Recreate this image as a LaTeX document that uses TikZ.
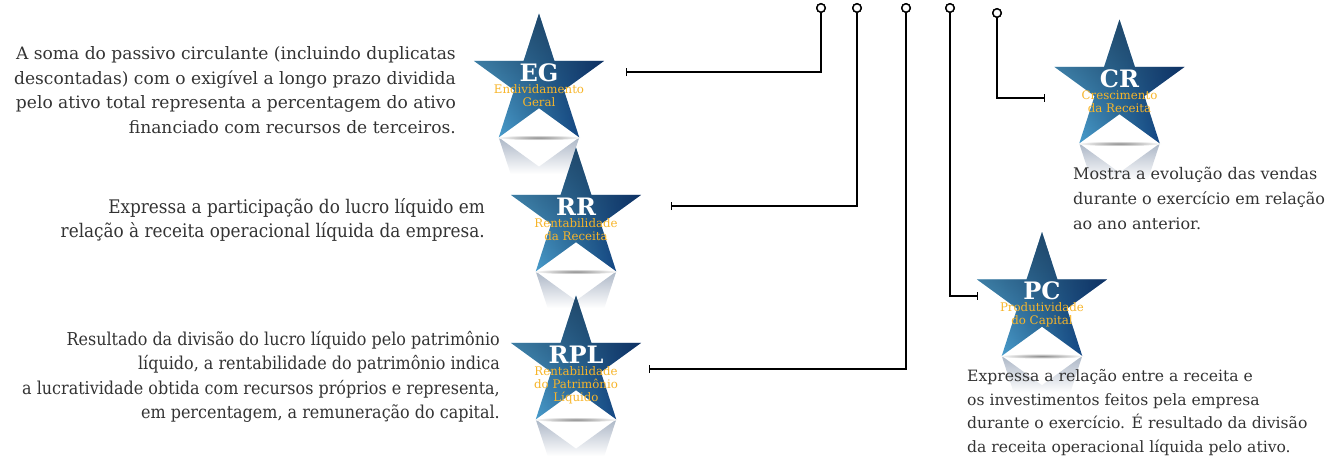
\documentclass[tikz,border=0pt]{standalone}
\usepackage{fontspec}
\setmainfont{DejaVu Serif}
\newfontfamily\condfont[FakeStretch=0.9]{DejaVu Serif}
\usetikzlibrary{arrows.meta,fadings}
\definecolor{starL}{HTML}{5AB6E4}
\definecolor{starM}{HTML}{2F74A6}
\definecolor{starR}{HTML}{032B6F}
\definecolor{starTop}{HTML}{1B3A58}
\definecolor{gold}{HTML}{F7B52A}
\definecolor{txt}{HTML}{333333}
\definecolor{refl}{HTML}{8E9DB2}
\tikzfading[name=topfade, top color=transparent!0, bottom color=transparent!100]
\tikzset{
  starbody/.pic={
    \shade[left color=starL, right color=starR, middle color=starM]
      (0,-68.5) -- (15.38,-21.17) -- (65.15,-21.17) -- (24.89,8.09) -- (40.26,55.42)
      -- (0,26.17) -- (-40.26,55.42) -- (-24.89,8.09) -- (-65.15,-21.17) -- (-15.38,-21.17) -- cycle;
    \fill[starTop, path fading=topfade, fill opacity=0.75]
      (0,-68.5) -- (15.38,-21.17) -- (65.15,-21.17) -- (24.89,8.09) -- (40.26,55.42)
      -- (0,26.17) -- (-40.26,55.42) -- (-24.89,8.09) -- (-65.15,-21.17) -- (-15.38,-21.17) -- cycle;
  },
  starrefl/.pic={
    \begin{scope}
      \clip (0,179.3) -- (15.38,132) -- (65.15,132) -- (24.89,102.75) -- (40.26,55.42)
        -- (0,84.67) -- (-40.26,55.42) -- (-24.89,102.75) -- (-65.15,132) -- (-15.38,132) -- cycle;
      \shade[top color=refl!85!white, bottom color=white] (-70,50) rectangle (70,92);
    \end{scope}
    \shade[inner color=black!45, outer color=white] (0,55.6) ellipse (43 and 2.6);
  },
  abbr/.style={text=white, font=\bfseries\fontsize{24}{24}\selectfont, inner sep=0pt},
  sub/.style={text=gold, font=\fontsize{11.8}{12.8}\selectfont, align=center, inner sep=0pt, anchor=north},
  desc/.style={text=txt, inner sep=0pt},
  pin/.style={circle, draw=black, fill=white, line width=1.4pt, minimum size=8.5pt, inner sep=0pt},
  link/.style={draw=black, line width=1.3pt, -{Bar[width=8pt, line width=1.3pt]}},
}
\begin{document}
\begin{tikzpicture}[x=1pt, y=-1pt]
\useasboundingbox (0,0) rectangle (1326,456);

% reflections first
\pic at (539,82) {starrefl};
\pic at (576,216) {starrefl};
\pic at (576,364) {starrefl};
\pic at (1119.5,88) {starrefl};
\pic at (1042,300.5) {starrefl};

% stars
\pic at (539,82) {starbody};
\pic at (576,216) {starbody};
\pic at (576,364) {starbody};
\pic at (1119.5,88) {starbody};
\pic at (1042,300.5) {starbody};

% labels
\node[abbr] (eg) at (539,72.5) {EG};
\node[sub] (egs) at (539,84.5) {Endividamento\\Geral};
\node[abbr] (rr) at (576,206.5) {RR};
\node[sub] (rrs) at (576,218.5) {Rentabilidade\\da Receita};
\node[abbr] (rpl) at (576,354.5) {RPL};
\node[sub] (rpls) at (576,366.5) {Rentabilidade\\do Patrimônio\\Líquido};
\node[abbr] (cr) at (1119.5,78.5) {CR};
\node[sub] (crs) at (1119.5,90.5) {Crescimento\\da Receita};
\node[abbr] (pc) at (1042,290.5) {PC};
\node[sub] (pcs) at (1042,302.5) {Produtividade\\do Capital};

% connector pins and ends
\node[pin] (p1) at (821,8) {};
\node[pin] (p2) at (857,8) {};
\node[pin] (p3) at (906,8) {};
\node[pin] (p4) at (950,8) {};
\node[pin] (p5) at (997,13) {};
\coordinate (eg-e) at (626,72);
\coordinate (rr-e) at (671,206);
\coordinate (rpl-e) at (649,369);
\coordinate (pc-e) at (978,296);
\coordinate (cr-e) at (1045,98);
\draw[link] (p1) |- (eg-e);
\draw[link] (p2) |- (rr-e);
\draw[link] (p3) |- (rpl-e);
\draw[link] (p4) |- (pc-e);
\draw[link] (p5) |- (cr-e);
\node[pin] at (p1) {};
\node[pin] at (p2) {};
\node[pin] at (p3) {};
\node[pin] at (p4) {};
\node[pin] at (p5) {};

% descriptions
\node[desc, font=\fontsize{17.1}{24.6}\selectfont, anchor=north east, align=right] (egt) at (456,46.5)
  {A soma do passivo circulante (incluindo duplicatas\\descontadas) com o exigível a longo prazo dividida\\pelo ativo total representa a percentagem do ativo\\financiado com recursos de terceiros.};
\node[desc, font=\condfont\fontsize{18.75}{24.3}\selectfont, anchor=north east, align=right] (rrt) at (485,198)
  {Expressa a participação do lucro líquido em\\relação à receita operacional líquida da empresa.};
\node[desc, font=\condfont\fontsize{17.75}{24.3}\selectfont, anchor=north east, align=right] (rplt) at (500,331)
  {Resultado da divisão do lucro líquido pelo patrimônio\\líquido, a rentabilidade do patrimônio indica\\a lucratividade obtida com recursos próprios e representa,\\em percentagem, a remuneração do capital.};
\node[desc, font=\fontsize{16}{25}\selectfont, anchor=north west, align=left] (crt) at (1073,167)
  {Mostra a evolução das vendas\\durante o exercício em relação\\ao ano anterior.};
\node[desc, font=\fontsize{15.6}{23.4}\selectfont, anchor=north west, align=left] (pct) at (967,369.5)
  {Expressa a relação entre a receita e\\os investimentos feitos pela empresa\\durante o exercício. É resultado da divisão\\da receita operacional líquida pelo ativo.};
\end{tikzpicture}
\end{document}
